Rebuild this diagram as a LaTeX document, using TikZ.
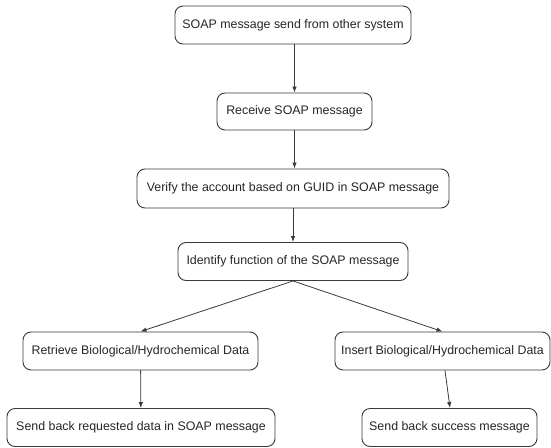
\documentclass[tikz,border=0pt]{standalone}
\usepackage{fontspec}
\setmainfont{Liberation Sans}
\usetikzlibrary{arrows.meta}
\definecolor{edge}{HTML}{3A3A3A}
\tikzset{
  box/.style={draw=edge, line width=0.9pt, rounded corners=8pt, fill=white,
    inner sep=0pt, font=\fontsize{12.4}{14}\selectfont, text=black!85},
  flow/.style={draw=edge, line width=0.8pt, -{Latex[length=6pt,width=4.5pt]}}
}
\begin{document}
\begin{tikzpicture}[x=1pt,y=-1pt]
\useasboundingbox (0,0) rectangle (551,447);
\node[box, minimum width=236pt, minimum height=38pt] (src) at (293,25) {SOAP message send from other system};
\node[box, minimum width=155pt, minimum height=37pt] (recv) at (294.5,111.5) {Receive SOAP message};
\node[box, minimum width=312pt, minimum height=39pt] (verify) at (293,188.5) {Verify the account based on GUID in SOAP message};
\node[box, minimum width=230pt, minimum height=38pt] (ident) at (293,261.5) {Identify function of the SOAP message};
\node[box, minimum width=235pt, minimum height=38pt] (retr) at (140.5,351) {Retrieve Biological/Hydrochemical Data};
\node[box, minimum width=215pt, minimum height=38pt] (ins) at (442.5,351) {Insert Biological/Hydrochemical Data};
\node[box, minimum width=268pt, minimum height=38pt] (sendd) at (141,427.5) {Send back requested data in SOAP message};
\node[box, minimum width=175pt, minimum height=38pt] (sends) at (449.5,427.5) {Send back success message};

\draw[flow] (recv.north |- src.south) -- (recv.north);
\draw[flow] (recv.south) -- (recv.south |- verify.north);
\draw[flow] (verify) -- (ident);
\draw[flow] (ident.south) -- (retr.north);
\draw[flow] (ident.south) -- (ins.north);
\draw[flow] (retr) -- (sendd);
\draw[flow] ([xshift=2.5pt]ins.south) -- ([xshift=0.5pt]sends.north);
\end{tikzpicture}
\end{document}
